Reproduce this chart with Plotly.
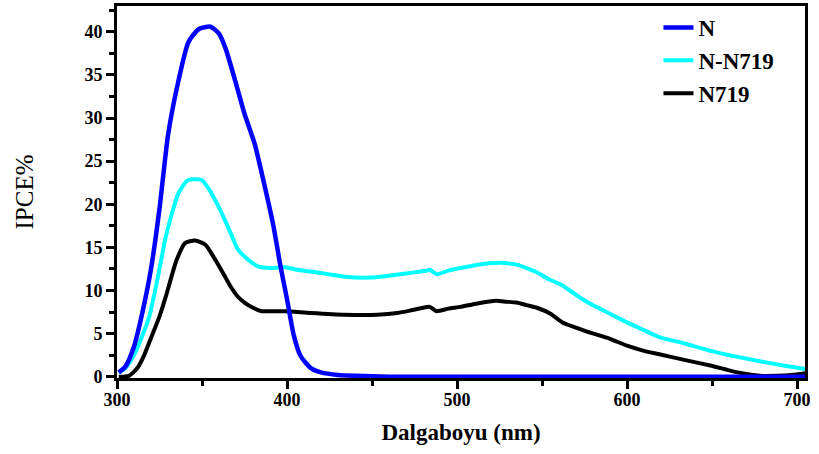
import plotly.graph_objects as go

# Wavelengths (nm) and IPCE% values
n_x = [301, 305, 310, 315, 320, 325, 330, 336, 342, 348, 355, 360, 364, 370, 375,
       381, 387, 392, 396, 400, 404, 408, 414, 420, 430, 440, 460, 500, 600, 705]
n_y = [0.5, 1.2, 3.5, 7.5, 12.5, 19.5, 28.0, 34.2, 38.8, 40.3, 40.6, 39.8, 38.0, 34.0, 30.5,
       27.0, 22.0, 17.5, 13.0, 9.0, 4.8, 2.4, 1.0, 0.5, 0.2, 0.1, 0.0, 0.0, 0.0, 0.0]

nn_x = [301, 305, 310, 315, 319, 324, 329, 336, 341, 344, 350, 354, 358, 362, 367,
        371, 377, 383, 390, 399, 406, 414, 424, 434, 449, 463, 475, 482, 484, 488,
        495, 502, 510, 516, 522, 528, 535, 541, 548, 554, 561, 570, 577, 590, 600,
        610, 619, 635, 649, 665, 678, 692, 705]
nn_y = [0.5, 1.0, 2.5, 4.8, 7.0, 11.5, 16.5, 21.2, 22.7, 22.9, 22.8, 21.8, 20.4, 18.8, 16.6,
        14.8, 13.6, 12.8, 12.6, 12.7, 12.4, 12.2, 11.9, 11.6, 11.5, 11.8, 12.1, 12.3, 12.4, 11.9,
        12.3, 12.6, 12.9, 13.1, 13.2, 13.2, 13.0, 12.6, 12.0, 11.3, 10.7, 9.5, 8.6, 7.3, 6.3,
        5.4, 4.6, 3.8, 3.0, 2.3, 1.8, 1.3, 0.9]

k_x = [301, 307, 312, 316, 320, 325, 329, 335, 340, 346, 352, 358, 363, 367, 371,
       375, 380, 385, 392, 399, 414, 434, 453, 465, 473, 480, 484, 488, 495, 502,
       512, 523, 529, 535, 541, 547, 555, 562, 570, 577, 590, 600, 610, 619, 635,
       649, 657, 665, 672, 678, 688, 697, 705]
k_y = [0.0, 0.1, 1.0, 2.5, 4.5, 7.0, 9.5, 13.5, 15.5, 15.8, 15.3, 13.5, 11.8, 10.4, 9.3,
       8.6, 8.0, 7.6, 7.6, 7.6, 7.4, 7.2, 7.2, 7.4, 7.7, 8.0, 8.1, 7.6, 7.9, 8.1,
       8.5, 8.8, 8.7, 8.6, 8.3, 8.0, 7.3, 6.3, 5.7, 5.2, 4.4, 3.6, 3.0, 2.6, 1.9,
       1.3, 0.9, 0.5, 0.25, 0.1, 0.1, 0.2, 0.4]

names = ["N", "N-N719", "N719"]
colors = ["#0000FF", "#00FFFF", "#000000"]

FONT = "Liberation Serif"

fig = go.Figure()
fig.add_trace(go.Scatter(x=k_x, y=k_y, name=names[2], mode="lines",
                         line=dict(color=colors[2], width=4, shape="spline", smoothing=0.6)))
fig.add_trace(go.Scatter(x=nn_x, y=nn_y, name=names[1], mode="lines",
                         line=dict(color=colors[1], width=4, shape="spline", smoothing=0.6)))
fig.add_trace(go.Scatter(x=n_x, y=n_y, name=names[0], mode="lines",
                         line=dict(color=colors[0], width=4.5, shape="spline", smoothing=0.6)))

fig.update_layout(
    width=819, height=454,
    margin=dict(l=117, r=14, t=3, b=76),
    paper_bgcolor="white", plot_bgcolor="white",
    font=dict(family=FONT, color="black"),
    showlegend=True,
    legend=dict(x=0.787, y=1.0, xanchor="left", yanchor="top",
                traceorder="reversed", bgcolor="rgba(0,0,0,0)",
                font=dict(family=FONT, size=23, color="black", weight="bold"),
                itemwidth=30, tracegroupgap=0),
    xaxis=dict(range=[300, 704.7], showgrid=False, zeroline=False,
               showline=True, linecolor="black", linewidth=3, mirror=True,
               ticks="outside", ticklen=8, tickwidth=3, tickcolor="black",
               tick0=300, dtick=100, ticklabelstandoff=-5,
               minor=dict(ticks="outside", ticklen=5, tickwidth=2.5, tickcolor="black", dtick=50),
               tickfont=dict(family=FONT, size=18, color="black", weight="bold"),
               title=dict(text="Dalgaboyu (nm)", standoff=16,
                          font=dict(family=FONT, size=23, color="black", weight="bold"))),
    yaxis=dict(range=[-0.15, 43], showgrid=False, zeroline=False,
               showline=True, linecolor="black", linewidth=3, mirror=True,
               ticks="outside", ticklen=8, tickwidth=3, tickcolor="black",
               tick0=0, dtick=5,
               minor=dict(ticks="outside", ticklen=5, tickwidth=2.5, tickcolor="black", dtick=2.5),
               tickfont=dict(family=FONT, size=18, color="black", weight="bold"),
               title=dict(text="IPCE%", standoff=44,
                          font=dict(family=FONT, size=25, color="black"))),
)

fig.write_html("out.html")
